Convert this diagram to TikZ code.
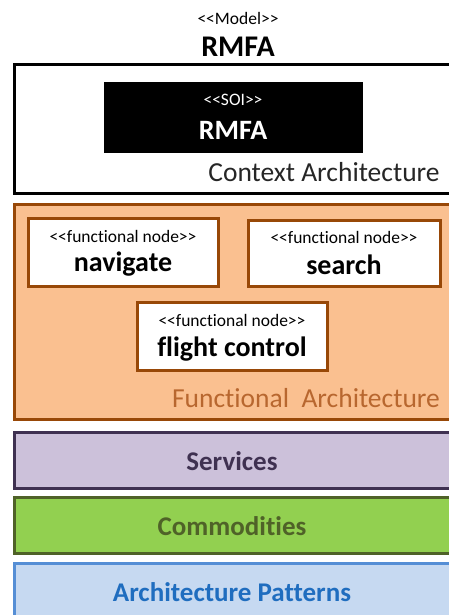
\documentclass[tikz,border=0pt]{standalone}
\usepackage{fontspec}
\setmainfont[Ligatures={TeX,NoCommon}]{Carlito}
\definecolor{funcfill}{HTML}{FAC090}
\definecolor{funcline}{HTML}{984807}
\definecolor{functext}{HTML}{B8672F}
\definecolor{servfill}{HTML}{CCC1DA}
\definecolor{servline}{HTML}{3F3151}
\definecolor{commfill}{HTML}{92D050}
\definecolor{commline}{HTML}{4F6228}
\definecolor{patfill}{HTML}{C6D9F1}
\definecolor{patline}{HTML}{558ED5}
\definecolor{pattext}{HTML}{1F6DBF}
\newcommand{\stereotype}[1]{{<}{<}#1{>}{>}}
\tikzset{
  layer/.style={draw, line width=3pt, rectangle, inner sep=0pt, minimum width=456pt},
  fnode/.style={draw=funcline, fill=white, line width=3pt, rectangle, inner sep=0pt},
  stereo/.style={inner sep=0pt, font=\fontsize{17.5}{19}\selectfont},
  bigname/.style={inner sep=0pt, font=\fontsize{28}{30}\selectfont\bfseries},
  layername/.style={inner sep=0pt, font=\fontsize{27}{30}\selectfont\bfseries},
  archlabel/.style={inner sep=0pt, font=\fontsize{27.5}{30}\selectfont},
}
\begin{document}
\begin{tikzpicture}[x=1pt, y=-1pt]
\useasboundingbox (0,0) rectangle (449,615);
\clip (0,0) rectangle (449,615);

% model title
\node[stereo] (modelst) at (238,18) {\stereotype{Model}};
\node[bigname, font=\fontsize{30}{32}\selectfont\bfseries] (modelname) at (238,47) {RMFA};

% context architecture
\node[layer, draw=black, fill=white, minimum height=128pt] (context) at (242,129) {};
\node[draw=black, fill=black, rectangle, inner sep=0pt, minimum width=258pt, minimum height=70pt] (soi) at (233,117) {};
\node[stereo, text=white] (soist) at (233,100) {\stereotype{SOI}};
\node[bigname, text=white] (soiname) at (233,130) {RMFA};
\node[archlabel, text=black!85] (contextlabel) at (324,172) {Context Architecture};

% functional architecture
\node[layer, draw=funcline, fill=funcfill, minimum height=215pt] (functional) at (242,311.5) {};
\node[fnode, minimum width=190pt, minimum height=68pt] (navigate) at (123,252) {};
\node[stereo] (navst) at (123,236) {\stereotype{functional node}};
\node[bigname] (navname) at (123,264) {navigate};
\node[fnode, minimum width=192pt, minimum height=66pt] (search) at (344,253) {};
\node[stereo] (searchst) at (344,237) {\stereotype{functional node}};
\node[bigname] (searchname) at (344,265) {search};
\node[fnode, minimum width=190pt, minimum height=68pt] (flight) at (232,336) {};
\node[stereo] (flightst) at (232,320) {\stereotype{functional node}};
\node[bigname] (flightname) at (232,349) {flight control};
\node[archlabel, text=functext] (funclabel) at (306,398) {Functional~ Architecture};

% lower layers
\node[layer, draw=servline, fill=servfill, minimum height=56pt] (services) at (242,460) {};
\node[layername, text=servline] (servlabel) at (232,461) {Services};
\node[layer, draw=commline, fill=commfill, minimum height=56pt] (commodities) at (242,525) {};
\node[layername, text=commline] (commlabel) at (232,526) {Commodities};
\node[layer, draw=patline, fill=patfill, minimum height=80pt] (patterns) at (242,603) {};
\node[layername, text=pattext] (patlabel) at (232,592) {Architecture Patterns};
\end{tikzpicture}
\end{document}
